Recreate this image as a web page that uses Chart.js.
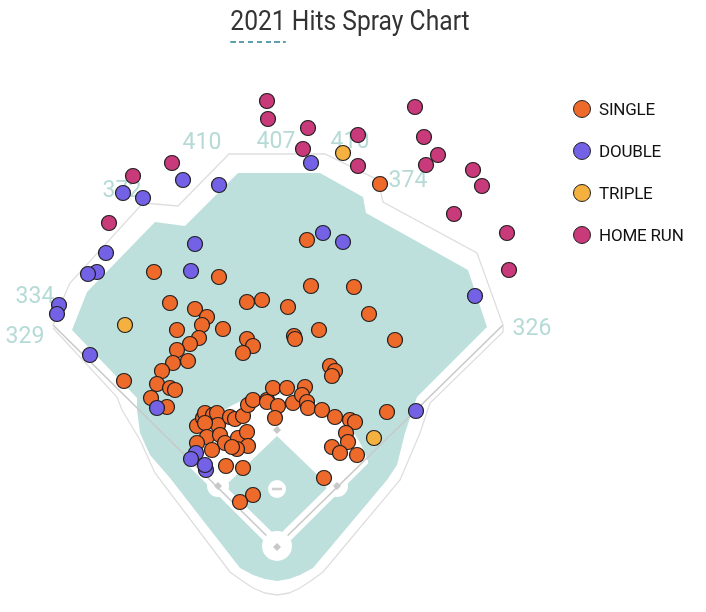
<!DOCTYPE html>
<html>
<head>
<meta charset="utf-8">
<title>2021 Hits Spray Chart</title>
<script src="https://cdn.jsdelivr.net/npm/chart.js@4.4.1/dist/chart.umd.min.js"></script>
<style>
    body { margin: 0; background: #fff; font-family: Roboto, 'Noto Sans', sans-serif; }
    #wrap { position: relative; width: 706px; height: 612px; overflow: hidden; }
    #sprayChart { position: absolute; left: 0; top: 0; }
    .chart-title {
        position: absolute; top: 4px; left: -3px; width: 706px;
        text-align: center; font-size: 28px; line-height: 34px; color: #333;
    }
    .chart-title .inner { display: inline-block; transform: scaleX(0.88); transform-origin: 50% 50%; }
    .chart-title .year { position: relative; }
    .chart-title .year::after {
        content: ''; position: absolute; left: 0; right: 0; bottom: -6px; height: 2px;
        background: repeating-linear-gradient(to right, #5f9eac 0 6px, transparent 6px 10px);
    }
    #legend { position: absolute; left: 573px; top: 88px; }
    .legend-item { display: flex; align-items: center; height: 42px; }
    .legend-dot {
        width: 16px; height: 16px; border-radius: 50%; border: 1.5px solid #222;
        box-sizing: content-box; margin-right: 8px;
    }
    .legend-label { font-size: 17px; color: #111; letter-spacing: -0.2px; }
</style>
</head>
<body>
<div id="wrap">
    <canvas id="sprayChart" width="706" height="612"></canvas>
    <div class="chart-title"><span class="inner"><span class="year">2021</span> Hits Spray Chart</span></div>
    <div id="legend"></div>
</div>
<script>
// hit types, legend order
const hitTypes = ['SINGLE', 'DOUBLE', 'TRIPLE', 'HOME RUN'];
const hitColors = ['#ee6a2b', '#7462e6', '#f5b13f', '#c83a7a'];

const singles = [
    [380, 184], [307, 240], [154, 272], [219, 277], [311, 286], [354, 287],
    [170, 303], [247, 302], [262, 300], [288, 307], [195, 309], [369, 314],
    [207, 317], [202, 325], [177, 330], [223, 329], [319, 330], [294, 336],
    [295, 339], [395, 340], [247, 339], [253, 346], [243, 353], [199, 338],
    [190, 344], [177, 350], [188, 361], [173, 363], [162, 371], [330, 366],
    [335, 371], [332, 376], [124, 381], [157, 384], [170, 388], [175, 390],
    [151, 398], [167, 407], [387, 412],
    [197, 426], [203, 418], [205, 413], [213, 415], [217, 413], [218, 425],
    [230, 417], [235, 419], [243, 416], [248, 405], [253, 400], [205, 423],
    [207, 437], [220, 435], [225, 443], [238, 438], [247, 432], [248, 446],
    [237, 449], [232, 447], [212, 450], [197, 443], [226, 466], [243, 468],
    [253, 495], [240, 502],
    [267, 400], [273, 388], [287, 388], [267, 402], [278, 406], [275, 418],
    [293, 403], [305, 387], [302, 395], [307, 402], [308, 408], [322, 410],
    [335, 417], [350, 420], [355, 422], [346, 433], [348, 442], [332, 447],
    [340, 453], [357, 455], [324, 478]
];
const doubles = [
    [183, 180], [123, 193], [143, 198], [219, 185], [311, 163], [323, 233],
    [343, 242], [195, 244], [191, 271], [106, 253], [97, 272], [88, 274],
    [59, 305], [57, 314], [90, 355], [475, 296], [157, 408], [416, 411],
    [196, 453], [191, 459], [206, 470], [205, 465]
];
const triples = [[343, 153], [125, 325], [374, 438]];
const homeRuns = [
    [267, 101], [268, 119], [308, 128], [303, 149], [358, 135], [358, 166],
    [415, 107], [424, 137], [438, 155], [426, 165], [473, 170], [482, 186],
    [454, 214], [507, 233], [509, 270], [172, 163], [133, 176], [109, 223]
];

// fence distance labels
const distanceLabels = ['334', '329', '372', '410', '407', '410', '374', '326'];
const distanceSpots = [[35, 297], [25, 337], [122, 191], [202, 143], [276, 142], [350, 142], [408, 181], [532, 329]];

// field outline
const wallLine = [
    [53, 326], [58, 310], [70, 283], [143, 203], [178, 206], [229, 154], [325, 154],
    [378, 180], [383, 202], [477, 253], [503, 325], [503, 332], [430, 403],
    [420, 433], [400, 480], [323, 572], [312, 580], [300, 588], [289, 593],
    [277, 595], [265, 593], [253, 588], [241, 580], [230, 572], [155, 473],
    [140, 440], [122, 410], [117, 397], [53, 328]
];
const grassArea = [
    [72, 330], [87, 292], [155, 222], [185, 226], [238, 173], [320, 173],
    [363, 197], [366, 213], [468, 270], [487, 327], [417, 397], [405, 433],
    [397, 465], [387, 480], [313, 568], [300, 575], [289, 579], [277, 581],
    [265, 579], [253, 575], [240, 568], [170, 478], [150, 455], [140, 433],
    [137, 410], [137, 398]
];
const dirtWedge = [[277, 554], [51, 329], [51, 250], [503, 250], [503, 329]];
const infieldGrass = [[277, 436], [329, 486], [277, 537], [225, 486]];
const homePlate = [277, 546];
const moundSpot = [277, 489];
const bases = [[218, 486], [337, 486], [277, 430]];
const foulPoles = [[53, 325], [503, 325]];

const toPoints = arr => arr.map(p => ({ x: p[0], y: p[1] }));

const fieldPlugin = {
    id: 'field',
    beforeDatasetsDraw(chart) {
        const { ctx, scales: { x, y } } = chart;
        const px = p => [x.getPixelForValue(p[0]), y.getPixelForValue(p[1])];
        const len = r => Math.abs(x.getPixelForValue(r) - x.getPixelForValue(0));
        const poly = (pts, close) => {
            ctx.beginPath();
            pts.forEach((p, i) => {
                const [a, b] = px(p);
                if (i === 0) ctx.moveTo(a, b); else ctx.lineTo(a, b);
            });
            if (close) ctx.closePath();
        };
        const circle = (c, r) => {
            const [a, b] = px(c);
            ctx.beginPath();
            ctx.arc(a, b, len(r), 0, Math.PI * 2);
        };

        ctx.save();
        // grass
        poly(grassArea, true);
        ctx.fillStyle = '#bde0dc';
        ctx.fill();

        // infield dirt
        ctx.save();
        poly(dirtWedge, true);
        ctx.clip();
        circle(moundSpot, 95);
        ctx.fillStyle = '#fff';
        ctx.fill();
        ctx.restore();

        poly(infieldGrass, true);
        ctx.fillStyle = '#bde0dc';
        ctx.fill();
        bases.slice(0, 2).forEach(b => { circle(b, 11); ctx.fillStyle = '#fff'; ctx.fill(); });

        // base paths
        ctx.strokeStyle = '#fff';
        ctx.lineWidth = 6;
        ctx.lineCap = 'butt';
        [[214, 482], [340, 482]].forEach(end => { poly([homePlate, end]); ctx.stroke(); });

        // foul lines
        ctx.strokeStyle = '#c9c9c9';
        ctx.lineWidth = 1.6;
        foulPoles.forEach(pole => { poly([pole, homePlate]); ctx.stroke(); });

        // wall
        poly(wallLine, false);
        ctx.strokeStyle = '#dedede';
        ctx.lineWidth = 1.3;
        ctx.stroke();

        // home plate circle, mound
        circle(homePlate, 15);
        ctx.fillStyle = '#fff';
        ctx.fill();
        circle(moundSpot, 9);
        ctx.fill();
        ctx.strokeStyle = '#cfcfcf';
        ctx.lineWidth = 2.5;
        poly([[moundSpot[0] - 5, moundSpot[1]], [moundSpot[0] + 5, moundSpot[1]]]);
        ctx.stroke();

        // bases
        ctx.fillStyle = '#c8c8c8';
        bases.concat([[homePlate[0], homePlate[1] + 1]]).forEach(b => {
            const [a, c] = px(b);
            ctx.beginPath();
            ctx.moveTo(a, c - 4); ctx.lineTo(a + 4, c); ctx.lineTo(a, c + 4); ctx.lineTo(a - 4, c);
            ctx.closePath();
            ctx.fill();
        });

        // distance labels
        ctx.fillStyle = '#b6dbd6';
        ctx.font = '23px Roboto';
        ctx.textAlign = 'center';
        ctx.textBaseline = 'middle';
        distanceLabels.forEach((t, i) => {
            const [a, b] = px(distanceSpots[i]);
            ctx.fillText(t, a, b);
        });
        ctx.restore();
    }
};

const hitSeries = [singles, doubles, triples, homeRuns];

new Chart(document.getElementById('sprayChart'), {
    type: 'scatter',
    data: {
        datasets: hitSeries.map((series, i) => ({
            label: hitTypes[i],
            data: toPoints(series),
            backgroundColor: hitColors[i],
            borderColor: '#1e1e1e',
            borderWidth: 1.2,
            pointRadius: 7.5,
            pointHoverRadius: 8,
            order: i === 0 ? 5 : (i === 1 ? 1 : 4 - i)
        }))
    },
    options: {
        responsive: false,
        animation: false,
        layout: { padding: 0, autoPadding: false },
        plugins: {
            legend: { display: false },
            tooltip: { enabled: true }
        },
        scales: {
            x: { type: 'linear', min: 0, max: 706, display: false },
            y: { type: 'linear', min: 0, max: 612, reverse: true, display: false }
        }
    },
    plugins: [fieldPlugin]
});

// legend built from the hit types
const legendEl = document.getElementById('legend');
hitTypes.forEach((name, i) => {
    const item = document.createElement('div');
    item.className = 'legend-item';
    item.innerHTML = '<span class="legend-dot" style="background:' + hitColors[i] + '"></span>' +
        '<span class="legend-label">' + name + '</span>';
    legendEl.appendChild(item);
});
</script>
</body>
</html>
